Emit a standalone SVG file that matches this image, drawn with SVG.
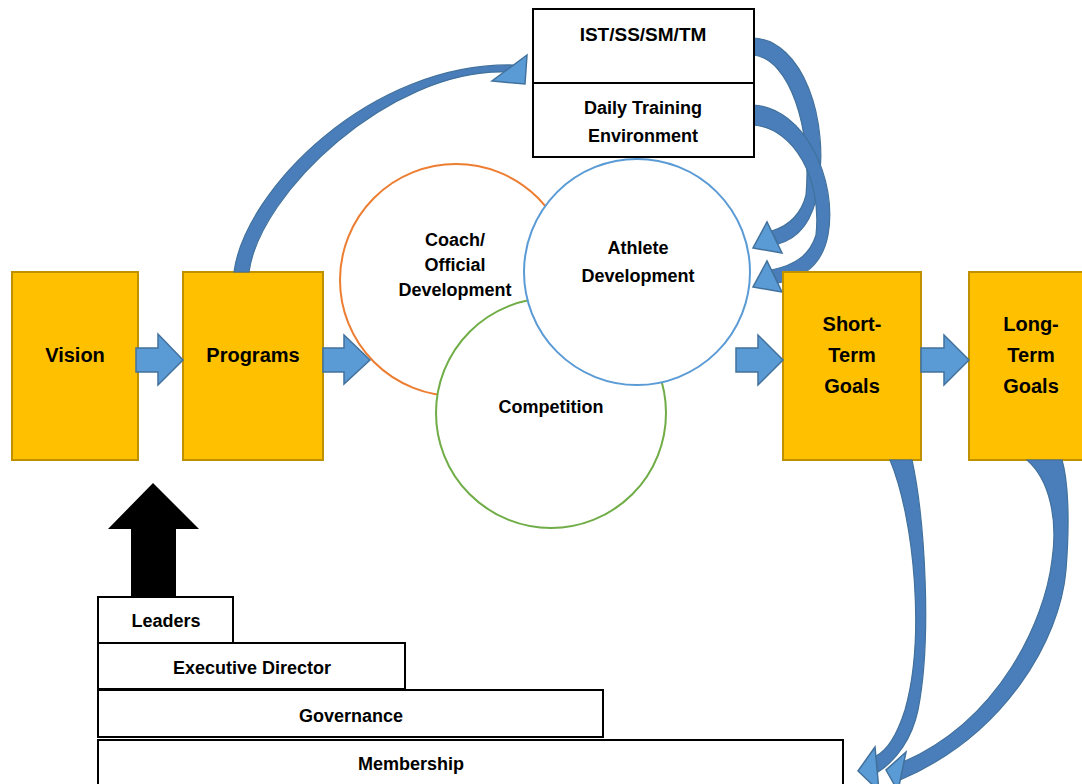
<svg xmlns="http://www.w3.org/2000/svg" width="1082" height="784" viewBox="0 0 1082 784">
<style>
text{font-family:"Liberation Sans",Arial,sans-serif;font-weight:bold;fill:#000;text-anchor:middle}
.s18{font-size:18px}
.s20{font-size:20px}
.gold{fill:#FFC000;stroke:#BF9000;stroke-width:2}
.wbox{fill:#fff;stroke:#000;stroke-width:2}
.blk{fill:#5B9BD5;stroke:#41719C;stroke-width:1.5;stroke-linejoin:miter}
.band{fill:#4A7EBB;stroke:#41719C;stroke-width:1.2}
.head{fill:#5B9BD5;stroke:#41719C;stroke-width:1.5;stroke-linejoin:miter}
</style>
<rect width="1082" height="784" fill="#fff"/>

<g id="connectors-back">
  <!-- IST to Athlete Development -->
  <path class="band" d="M753,38 C803,40 830,120 818,190 C813,220 800,238 778,244 L771.5,231 C790,226 802,212 806,195 C812,130 790,58 753,55 Z"/>
  <path class="head" d="M782,253 L753,248 L767,222 Z"/>
  <!-- Daily Training Environment to Athlete Development -->
  <path class="band" d="M753,105 C805,108 838,180 828,235 C823,262 805,278 778,283 L771.5,270 C795,265 810,255 816,235 C822,180 795,128 753,125 Z"/>
  <path class="head" d="M782,292 L753,287 L767,261 Z"/>
</g>

<g id="circles">
  <circle id="coach" cx="456" cy="280" r="116" fill="#fff" stroke="#ED7D31" stroke-width="2"/>
  <circle id="competition" cx="551" cy="413" r="115" fill="#fff" stroke="#70AD47" stroke-width="2"/>
  <circle id="athlete" cx="637" cy="272" r="113" fill="#fff" stroke="#5B9BD5" stroke-width="2"/>
  <text class="s18" x="455" y="246">Coach/</text>
  <text class="s18" x="455" y="271">Official</text>
  <text class="s18" x="455" y="296">Development</text>
  <text class="s18" x="638" y="254">Athlete</text>
  <text class="s18" x="638" y="282">Development</text>
  <text class="s18" x="551" y="413">Competition</text>
</g>

<g id="ist">
  <rect class="wbox" x="533" y="9" width="221" height="74"/>
  <text x="643" y="41" style="font-size:19px">IST/SS/SM/TM</text>
</g>
<g id="dte">
  <rect class="wbox" x="533" y="83" width="221" height="74"/>
  <text class="s18" x="643" y="114">Daily Training</text>
  <text class="s18" x="643" y="142">Environment</text>
</g>

<g id="vision">
  <rect class="gold" x="12" y="272" width="126" height="188"/>
  <text class="s20" x="75" y="362">Vision</text>
</g>
<g id="programs">
  <rect class="gold" x="183" y="272" width="140" height="188"/>
  <text class="s20" x="253" y="362">Programs</text>
</g>
<g id="short-term">
  <rect class="gold" x="783" y="272" width="138" height="188"/>
  <text class="s20" x="852" y="331">Short-</text>
  <text class="s20" x="852" y="362">Term</text>
  <text class="s20" x="852" y="393">Goals</text>
</g>
<g id="long-term">
  <rect class="gold" x="969" y="272" width="124" height="188"/>
  <text class="s20" x="1031" y="331">Long-</text>
  <text class="s20" x="1031" y="362">Term</text>
  <text class="s20" x="1031" y="393">Goals</text>
</g>

<g id="leaders">
  <rect class="wbox" x="98" y="597" width="135" height="46"/>
  <text class="s18" x="166" y="627">Leaders</text>
</g>
<g id="executive-director">
  <rect class="wbox" x="98" y="643" width="307" height="46"/>
  <text class="s18" x="252" y="674">Executive Director</text>
</g>
<g id="governance">
  <rect class="wbox" x="98" y="690" width="505" height="47"/>
  <text class="s18" x="351" y="722">Governance</text>
</g>
<g id="membership">
  <rect class="wbox" x="98" y="740" width="745" height="60"/>
  <text class="s18" x="411" y="770">Membership</text>
</g>

<g id="connectors">
  <path class="blk" d="M136,348 L158,348 L158,334 L183,360 L158,385 L158,372 L136,372 Z"/>
  <path class="blk" d="M323,348 L344,348 L344,335 L370,360 L344,384 L344,372 L323,372 Z"/>
  <path class="blk" d="M736,348 L758,348 L758,335 L783,360 L758,385 L758,372 L736,372 Z"/>
  <path class="blk" d="M921,348 L944,348 L944,335 L969,360 L944,385 L944,372 L921,372 Z"/>
  <path d="M131,597 L131,529 L108,529 L153,483 L199,529 L176,529 L176,597 Z" fill="#000"/>
  <!-- Programs to IST -->
  <path class="band" d="M234,272 C245,190 370,62 514,65 L504,72 C390,70 260,192 249,272 Z"/>
  <path class="head" d="M527,55 L525,84 L492,81 Z"/>
  <!-- Short-Term to Membership -->
  <path class="band" d="M890,460 C915,520 925,640 905,710 C897,735 888,750 876,756 L878,772 C897,760 912,738 918,710 C932,640 925,520 912,460 Z"/>
  <path class="head" d="M875,747 L858,771 L879,791 Z"/>
  <!-- Long-Term to Membership -->
  <path class="band" d="M1027,460 C1050,480 1058,520 1052,560 C1045,620 1000,720 903,762 L900,780 C1005,735 1060,640 1066,570 C1070,520 1068,480 1062,460 Z"/>
  <path class="head" d="M906,752 L886,770 L898,791 Z"/>
</g>
</svg>
